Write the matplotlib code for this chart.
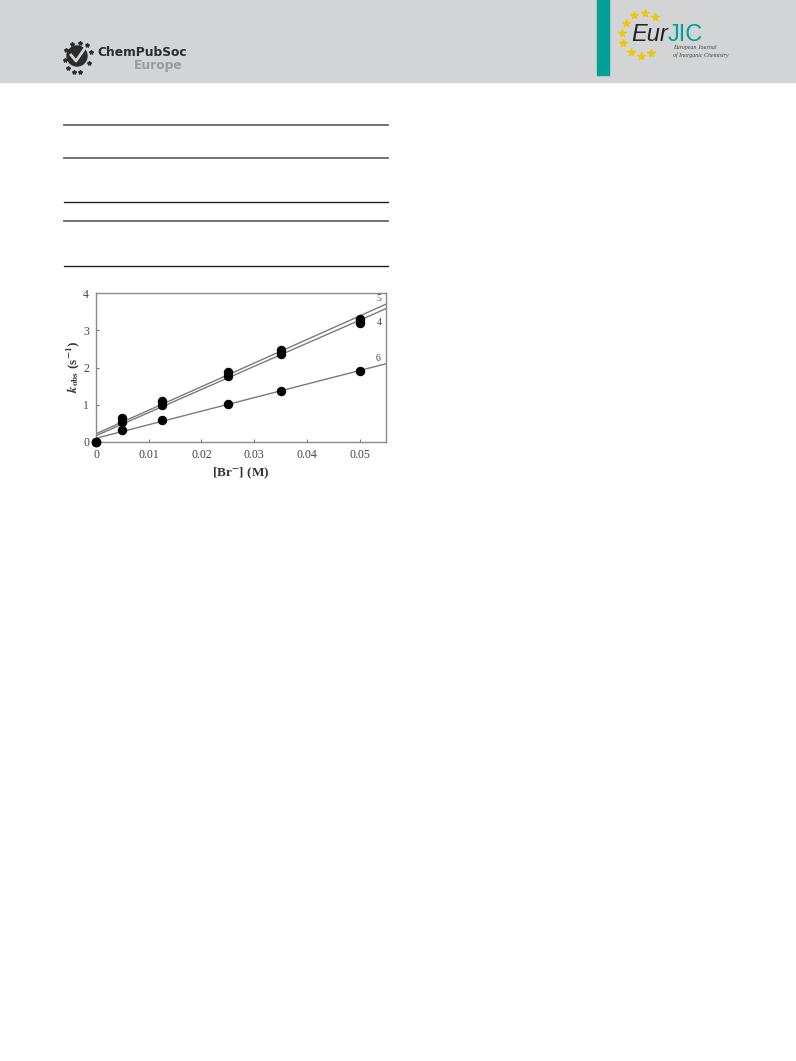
import numpy as np
import matplotlib
matplotlib.use("Agg")
from matplotlib import pyplot as plt
from matplotlib.patches import Rectangle, Circle

# data
br_conc = [0, 0.005, 0.0125, 0.025, 0.035, 0.05]
k_obs_5 = [0, 0.65, 1.10, 1.87, 2.48, 3.30]
k_obs_4 = [0, 0.55, 1.00, 1.76, 2.37, 3.20]
k_obs_6 = [0, 0.33, 0.60, 1.03, 1.38, 1.90]

# fitted lines (end points)
fit_x = [0, 0.055]
fit_5 = [0.22, 3.70]
fit_4 = [0.17, 3.58]
fit_6 = [0.10, 2.10]

x_ticks = [0, 0.01, 0.02, 0.03, 0.04, 0.05]
x_tick_labels = ['0', '0.01', '0.02', '0.03', '0.04', '0.05']
y_ticks = [0, 1, 2, 3, 4]

W, H = 796, 1061
fig = plt.figure(figsize=(W / 100, H / 100), dpi=100)

# page layer in pixel coordinates
page = fig.add_axes([0, 0, 1, 1])
page.set_xlim(0, W)
page.set_ylim(H, 0)
page.axis('off')

# header band
page.add_patch(Rectangle((0, 0), W, 82, color='#d3d4d6', zorder=0))
page.add_patch(Rectangle((597, 0), 12, 75, color='#00a096', zorder=1))

# ChemPubSoc logo
page.add_patch(Circle((77, 56), 10, color='#2b2b2b', zorder=2))
page.plot([71, 76, 85], [55, 61, 48], color='#d3d4d6', lw=2.0, zorder=3)
for sx, sy in [(91, 52), (89, 63), (80, 72), (74, 72), (68, 68), (65, 60), (66, 50), (72, 44), (80, 43), (87, 45)]:
    page.plot(sx, sy, marker='*', color='#2b2b2b', ms=3, zorder=3)
page.text(97, 52, 'ChemPubSoc', fontsize=8.8, fontweight='bold', color='#2b2b2b',
          family='DejaVu Sans', va='center', ha='left')
page.text(183, 66, 'Europe', fontsize=8.8, fontweight='bold', color='#9a9a9a',
          family='DejaVu Sans', va='center', ha='right')

# EurJIC logo
for sx, sy in [(634, 15), (645, 13), (655, 17), (626, 23), (622, 33), (623, 43),
               (631, 52), (641, 56), (651, 53)]:
    page.plot(sx, sy, marker='*', color='#f5c400', ms=5.5, zorder=3)
page.text(631, 41, 'Eur', fontsize=17, style='italic', color='#222222',
          family='Liberation Sans', va='baseline', ha='left')
page.text(668, 41, 'JIC', fontsize=17, color='#00a096',
          family='Liberation Sans', va='baseline', ha='left')
page.text(673, 47, 'European Journal', fontsize=4.3, style='italic', color='#444444',
          family='Liberation Serif', va='center', ha='left')
page.text(673, 55, 'of Inorganic Chemistry', fontsize=4.3, style='italic', color='#444444',
          family='Liberation Serif', va='center', ha='left')

# table rules
for y, c, lw in [(125, '#666666', 1.3), (158, '#666666', 1.3), (202, '#222222', 1.0),
                 (221, '#666666', 1.3), (266, '#222222', 1.0)]:
    page.plot([64, 388], [y, y], color=c, lw=lw)

# chart
ax = fig.add_axes([96 / W, 1 - 442 / H, 290 / W, 149 / H])
ax.set_xlim(0, 0.055)
ax.set_ylim(0, 4)

line_col = '#7a7a7a'
ax.plot(fit_x, fit_5, color=line_col, lw=1.0)
ax.plot(fit_x, fit_4, color=line_col, lw=1.0)
ax.plot(fit_x, fit_6, color=line_col, lw=1.0)
for ys in (k_obs_5, k_obs_4, k_obs_6):
    ax.plot(br_conc, ys, 'o', color='black', ms=5.8, clip_on=False, zorder=5)

ax.text(0.0542, 3.78, '5', fontsize=7, color='#444444', family='Liberation Serif', ha='right')
ax.text(0.0542, 3.15, '4', fontsize=7, color='#444444', family='Liberation Serif', ha='right')
ax.text(0.0540, 2.17, '6', fontsize=7, color='#444444', family='Liberation Serif', ha='right')

ax.set_xticks(x_ticks)
ax.set_xticklabels(x_tick_labels)
ax.set_yticks(y_ticks)
ax.tick_params(direction='in', length=2.5, width=0.8, colors='#777777',
               labelcolor='#444444', labelsize=8.5, pad=5)
for lab in ax.get_xticklabels() + ax.get_yticklabels():
    lab.set_family('Liberation Serif')
for sp in ax.spines.values():
    sp.set_color('#8a8a8a')
    sp.set_linewidth(1.0)

ax.set_xlabel('[Br$^{\\mathbf{-}}$] (M)', fontsize=9.5, fontweight='bold', family='Liberation Serif',
              color='#333333', labelpad=3, math_fontfamily='stix')
fig.text(73 / W, 1 - 367 / H, r'$\mathbfit{k}_{\mathbf{obs}}$ (s$^{\mathbf{-1}}$)', rotation=90,
         fontsize=9.5, fontweight='bold', family='Liberation Serif', color='#333333',
         ha='center', va='center', math_fontfamily='stix')

fig.savefig('out.png', dpi=100)
plt.close()
